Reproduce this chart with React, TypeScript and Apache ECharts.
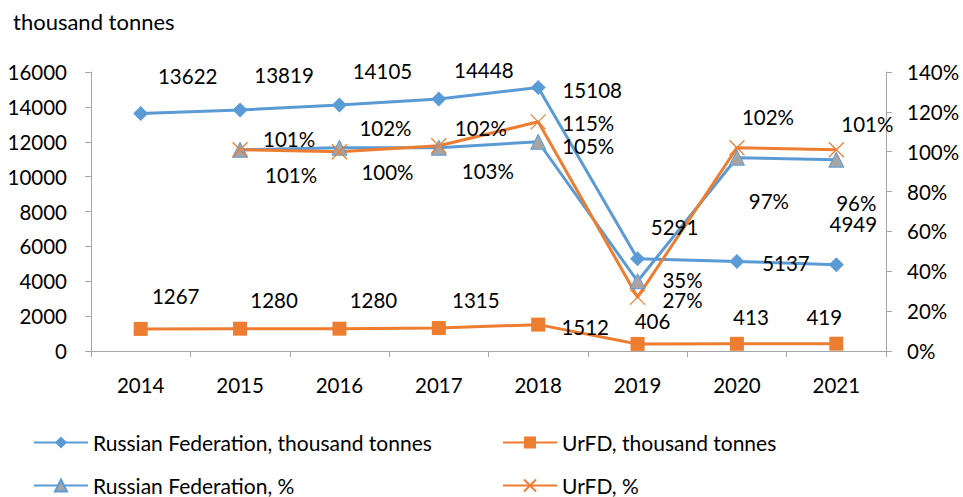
import React, { useEffect, useRef } from "react";
import * as echarts from "echarts";

const years = ["2014", "2015", "2016", "2017", "2018", "2019", "2020", "2021"];
const rfTonnes = [13622, 13819, 14105, 14448, 15108, 5291, 5137, 4949];
const urfdTonnes = [1267, 1280, 1280, 1315, 1512, 406, 413, 419];
const rfPct: (number | null)[] = [null, 101, 102, 102, 105, 35, 97, 96];
const urfdPct: (number | null)[] = [null, 101, 100, 103, 115, 27, 102, 101];

const leftTicks = { min: 0, max: 16000, interval: 2000 };
const rightTicks = { min: 0, max: 140, interval: 20 };

// label offsets (pixels) relative to each point
const rfTonnesOff = [[47, -37], [44, -35], [43, -34], [45, -29], [54, 2], [37, -32], [49, 2], [17, -41]];
const urfdTonnesOff = [[35, -33], [34, -29], [34, -29], [37, -28], [47, 2], [15, -23], [14, -27], [-12, -27]];
const rfPctOff = [[0, 0], [49, -11], [46, -20], [42, -20], [50, 4], [45, -1], [32, 43], [20, 43]];
const urfdPctOff = [[0, 0], [51, 25], [48, 20], [49, 25], [50, 1], [45, 3], [31, -31], [31, -26]];

const BLUE = "#5b9bd5";
const ORANGE = "#ed7d31";
const GRAY = "#a5a5a5";
const AXIS = "#a6a6a6";
const FONT = "Lato";

function withLabels(values: (number | null)[], offs: number[][], fmt: (v: number) => string) {
  return values.map((v, i) =>
    v === null
      ? null
      : {
          value: v,
          label: {
            show: true,
            position: "inside",
            offset: offs[i],
            formatter: fmt(v),
            fontSize: 20.5,
            fontFamily: FONT,
            color: "#000",
          },
        }
  );
}

export default function App() {
  const ref = useRef<HTMLDivElement>(null);
  useEffect(() => {
    document.body.style.margin = "0";
    if (!ref.current) return;
    const chart = echarts.init(ref.current, null, { renderer: "svg" });
    const legendText = { fontSize: 21, fontFamily: FONT, color: "#000" };
    const legendCommon = { itemWidth: 54, itemHeight: 15, textStyle: legendText, padding: 0 };
    chart.setOption({
      animation: false,
      textStyle: { fontFamily: FONT },
      title: {
        text: "thousand tonnes",
        left: 13,
        top: 10,
        padding: 0,
        textStyle: { fontSize: 22, fontWeight: "normal", fontFamily: FONT, color: "#000" },
      },
      grid: { left: 91, right: 77, top: 72, bottom: 146 },
      legend: [
        { data: ["Russian Federation, thousand tonnes"], left: 33, top: 432, ...legendCommon },
        { data: ["UrFD, thousand tonnes"], left: 502, top: 432, ...legendCommon },
        { data: ["Russian Federation, %"], left: 33, top: 475, ...legendCommon },
        { data: ["UrFD, %"], left: 502, top: 475, ...legendCommon },
      ],
      xAxis: {
        type: "category",
        data: years,
        boundaryGap: true,
        axisLine: { lineStyle: { color: AXIS, width: 1 } },
        axisTick: { show: true, length: 6, lineStyle: { color: AXIS } },
        axisLabel: { fontSize: 20.5, fontFamily: FONT, color: "#000", margin: 23 },
      },
      yAxis: [
        {
          type: "value",
          ...leftTicks,
          splitLine: { show: false },
          axisLine: { show: true, lineStyle: { color: AXIS } },
          axisTick: { show: true, length: 6, lineStyle: { color: AXIS } },
          axisLabel: { fontSize: 20.5, fontFamily: FONT, color: "#000", margin: 24, formatter: (v: number) => String(v) },
        },
        {
          type: "value",
          ...rightTicks,
          position: "right",
          splitLine: { show: false },
          axisLine: { show: true, lineStyle: { color: AXIS } },
          axisTick: { show: true, length: 6, lineStyle: { color: AXIS } },
          axisLabel: { fontSize: 20.5, fontFamily: FONT, color: "#000", margin: 21, formatter: (v: number) => v + "%" },
        },
      ],
      series: [
        {
          name: "Russian Federation, thousand tonnes",
          type: "line",
          yAxisIndex: 0,
          data: withLabels(rfTonnes, rfTonnesOff, (v) => String(v)),
          symbol: "diamond",
          symbolSize: 15,
          lineStyle: { color: BLUE, width: 3 },
          itemStyle: { color: BLUE },
        },
        {
          name: "UrFD, thousand tonnes",
          type: "line",
          yAxisIndex: 0,
          data: withLabels(urfdTonnes, urfdTonnesOff, (v) => String(v)),
          symbol: "rect",
          symbolSize: 14,
          lineStyle: { color: ORANGE, width: 3 },
          itemStyle: { color: ORANGE },
        },
        {
          name: "Russian Federation, %",
          type: "line",
          yAxisIndex: 1,
          data: withLabels(rfPct, rfPctOff, (v) => v + "%"),
          symbol: "triangle",
          symbolSize: 15,
          lineStyle: { color: BLUE, width: 3 },
          itemStyle: { color: GRAY, borderColor: BLUE, borderWidth: 1 },
        },
        {
          name: "UrFD, %",
          type: "line",
          yAxisIndex: 1,
          data: withLabels(urfdPct, urfdPctOff, (v) => v + "%"),
          symbol: "path://M0,0L10,10M10,0L0,10",
          symbolSize: 15,
          lineStyle: { color: ORANGE, width: 3 },
          itemStyle: { color: ORANGE, borderColor: ORANGE, borderWidth: 1.2 },
        },
      ],
    });
    return () => chart.dispose();
  }, []);
  return <div ref={ref} style={{ width: 963, height: 497 }} />;
}
